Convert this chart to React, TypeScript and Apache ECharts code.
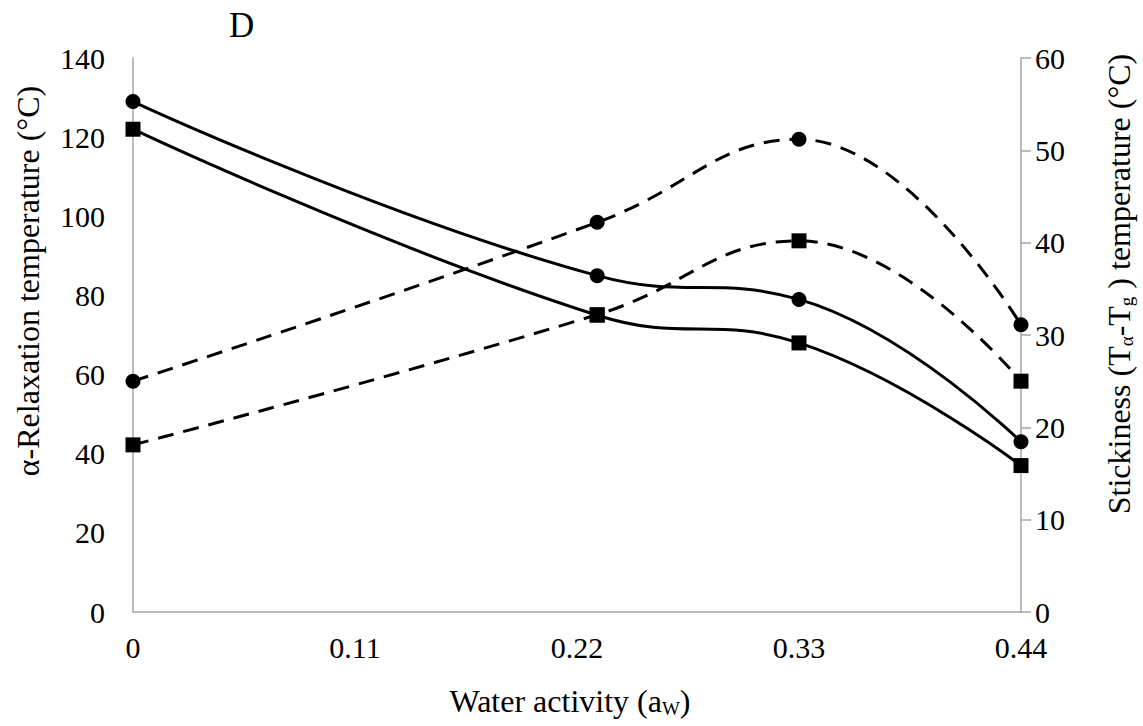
import React, { useEffect, useRef } from "react";
import * as echarts from "echarts";

const waterActivity = [0, 0.23, 0.33, 0.44];
const relaxCircle = [129, 85, 79, 43];
const relaxSquare = [122, 75, 68, 37];
const stickCircle = [25, 42.2, 51.2, 31.1];
const stickSquare = [18.1, 32.2, 40.2, 25];

const FONT = "Liberation Serif";

const pairs = (ys: number[]) => waterActivity.map((x, i) => [x, ys[i]]);

export default function App() {
  const ref = useRef<HTMLDivElement>(null);
  useEffect(() => {
    if (!ref.current) return;
    const chart = echarts.init(ref.current, undefined, { renderer: "svg" });
    const axisLine = { show: true, lineStyle: { color: "#a6a6a6", width: 1.5 } };
    const labelStyle = { color: "#000", fontFamily: FONT, fontSize: 30 };
    const titleSize = 32;
    const subSize = 19;
    const solid = (name: string, data: number[], symbol: string) => ({
      name,
      type: "line",
      yAxisIndex: 0,
      data: pairs(data),
      smooth: 0.45,
      symbol,
      symbolSize: 15,
      lineStyle: { color: "#000", width: 3 },
      itemStyle: { color: "#000" },
    });
    const dashed = (name: string, data: number[], symbol: string) => ({
      name,
      type: "line",
      yAxisIndex: 1,
      data: pairs(data),
      smooth: 0.45,
      symbol,
      symbolSize: 15,
      lineStyle: { color: "#000", width: 3, type: [16, 10] },
      itemStyle: { color: "#000" },
    });
    const rich = {
      n: { fontFamily: FONT, fontSize: titleSize, fill: "#000", color: "#000" },
      s: { fontFamily: FONT, fontSize: subSize, fill: "#000", color: "#000", padding: [14, 0, 0, 0] },
    };
    chart.setOption({
      animation: false,
      backgroundColor: "#fff",
      textStyle: { fontFamily: FONT },
      grid: { left: 133, right: 122, top: 58, bottom: 114 },
      graphic: [
        {
          type: "text",
          x: 229,
          y: 25,
          style: { text: "D", fontFamily: FONT, fontSize: 35, fill: "#000", align: "left", verticalAlign: "middle" },
        },
        {
          type: "text",
          x: 28,
          y: 281,
          rotation: Math.PI / 2,
          style: {
            text: "α-Relaxation temperature (°C)",
            fontFamily: FONT,
            fontSize: titleSize,
            fill: "#000",
            align: "center",
            verticalAlign: "middle",
          },
        },
        {
          type: "text",
          x: 1119,
          y: 284,
          rotation: Math.PI / 2,
          style: {
            text: "{n|Stickiness (T}{s|α}{n|-T}{s|g}{n| ) temperature (°C)}",
            rich,
            fill: "#000",
            align: "center",
            verticalAlign: "middle",
          },
        },
        {
          type: "text",
          x: 570,
          y: 701,
          style: {
            text: "{n|Water activity (a}{s|W}{n|)}",
            rich,
            fill: "#000",
            align: "center",
            verticalAlign: "middle",
          },
        },
      ],
      xAxis: {
        type: "value",
        min: 0,
        max: 0.44,
        interval: 0.11,
        axisLine,
        axisTick: { show: false },
        splitLine: { show: false },
        axisLabel: {
          ...labelStyle,
          margin: 20,
          formatter: (v: number) => (v === 0 ? "0" : v.toFixed(2)),
        },
      },
      yAxis: [
        {
          type: "value",
          min: 0,
          max: 140,
          interval: 20,
          axisLine,
          axisTick: { show: false },
          splitLine: { show: false },
          axisLabel: { ...labelStyle, margin: 28 },
        },
        {
          type: "value",
          min: 0,
          max: 60,
          interval: 10,
          position: "right",
          axisLine,
          axisTick: { show: true, length: 10, lineStyle: { color: "#a6a6a6", width: 1.5 } },
          splitLine: { show: false },
          axisLabel: { ...labelStyle, margin: 14 },
        },
      ],
      series: [
        solid("relax-circle", relaxCircle, "circle"),
        solid("relax-square", relaxSquare, "rect"),
        dashed("stick-circle", stickCircle, "circle"),
        dashed("stick-square", stickSquare, "rect"),
      ],
    });
    return () => chart.dispose();
  }, []);
  return <div ref={ref} style={{ width: 1143, height: 726, position: "absolute", left: 0, top: 0 }} />;
}
